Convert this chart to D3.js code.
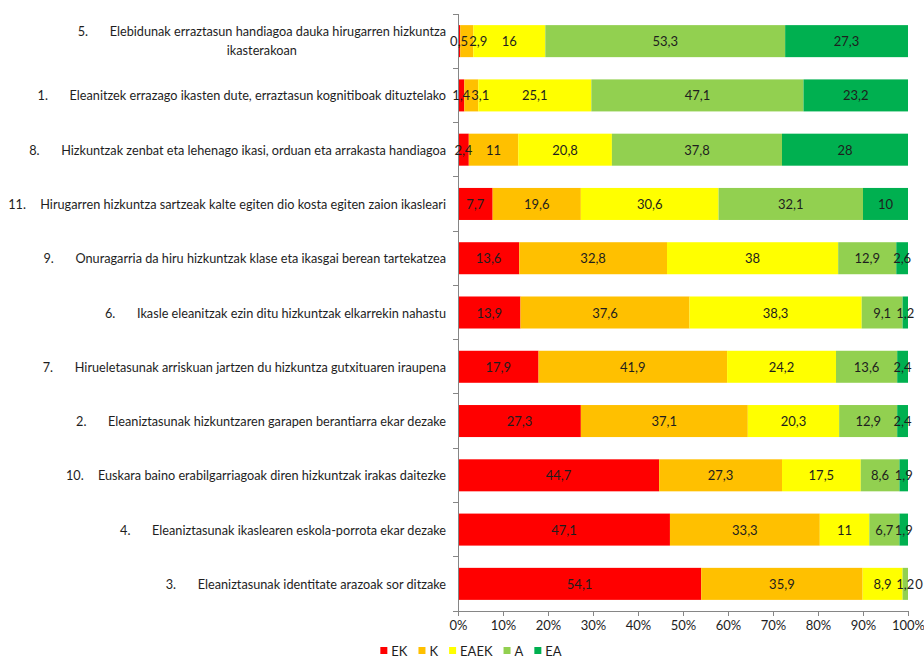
<!DOCTYPE html>
<html>
<head>
<meta charset="utf-8">
<script src="https://cdn.jsdelivr.net/npm/d3@7/dist/d3.min.js"></script>
<style>
  html, body { margin: 0; padding: 0; background: #fff; }
  svg { display: block; font-family: Lato, "Open Sans", sans-serif; }
</style>
</head>
<body>
<svg id="chart" width="924" height="659"></svg>
<script>
// ---- data ----
const itemNumbers = ["5.", "1.", "8.", "11.", "9.", "6.", "7.", "2.", "10.", "4.", "3."];
const itemTexts = [
  ["Elebidunak erraztasun handiagoa dauka hirugarren hizkuntza", "ikasterakoan"],
  ["Eleanitzek errazago ikasten dute, erraztasun kognitiboak dituztelako"],
  ["Hizkuntzak zenbat eta lehenago ikasi, orduan eta arrakasta handiagoa"],
  ["Hirugarren hizkuntza sartzeak kalte egiten dio kosta egiten zaion ikasleari"],
  ["Onuragarria da hiru hizkuntzak klase eta ikasgai berean tartekatzea"],
  ["Ikasle eleanitzak ezin ditu hizkuntzak elkarrekin nahastu"],
  ["Hirueletasunak arriskuan jartzen du hizkuntza gutxituaren iraupena"],
  ["Eleaniztasunak hizkuntzaren garapen berantiarra ekar dezake"],
  ["Euskara baino erabilgarriagoak diren hizkuntzak irakas daitezke"],
  ["Eleaniztasunak ikaslearen eskola-porrota ekar dezake"],
  ["Eleaniztasunak identitate arazoak sor ditzake"]
];
const seriesNames = ["EK", "K", "EAEK", "A", "EA"];
const seriesColors = ["#FF0000", "#FFC000", "#FFFF00", "#92D050", "#00B050"];
const EK   = [0.5, 1.4, 2.4, 7.7, 13.6, 13.9, 17.9, 27.3, 44.7, 47.1, 54.1];
const K    = [2.9, 3.1, 11, 19.6, 32.8, 37.6, 41.9, 37.1, 27.3, 33.3, 35.9];
const EAEK = [16, 25.1, 20.8, 30.6, 38, 38.3, 24.2, 20.3, 17.5, 11, 8.9];
const A    = [53.3, 47.1, 37.8, 32.1, 12.9, 9.1, 13.6, 12.9, 8.6, 6.7, 1.2];
const EA   = [27.3, 23.2, 28, 10, 2.6, 1.2, 2.4, 2.4, 1.9, 1.9, 0];
const xTicks = [0, 10, 20, 30, 40, 50, 60, 70, 80, 90, 100];

// ---- build table ----
const seriesValues = [EK, K, EAEK, A, EA];
const rows = itemNumbers.map((n, i) => {
  const r = { idx: i };
  seriesNames.forEach((s, j) => r[s] = seriesValues[j][i]);
  return r;
});

const svg = d3.select("#chart");
const plot = { left: 458, right: 908, top: 14, bottom: 611 };
const FS = 13;
const LFS = 12.7;

const x = d3.scaleLinear().domain([0, 1]).range([plot.left, plot.right]);
const y = d3.scaleBand().domain(rows.map(r => r.idx))
  .range([plot.top, plot.bottom]).paddingInner(0.41).paddingOuter(0.205);

const stack = d3.stack().keys(seriesNames).offset(d3.stackOffsetExpand);
const stacked = stack(rows);

const textColor = "#1e1e1e";
const axisColor = "#868686";

// bars
const g = svg.append("g");
stacked.forEach((layer, j) => {
  g.selectAll(null).data(layer).enter().append("rect")
    .attr("x", d => x(d[0]))
    .attr("y", d => y(d.data.idx))
    .attr("width", d => Math.max(0, x(d[1]) - x(d[0])))
    .attr("height", y.bandwidth())
    .attr("fill", seriesColors[j]);
});

// y axis line and ticks at category boundaries
svg.append("line").attr("x1", plot.left).attr("x2", plot.left)
  .attr("y1", plot.top).attr("y2", plot.bottom)
  .attr("stroke", axisColor).attr("stroke-width", 1).attr("shape-rendering", "crispEdges");
const step = y.step();
d3.range(rows.length + 1).forEach(k => {
  const yy = plot.top + k * step;
  svg.append("line").attr("x1", plot.left - 5).attr("x2", plot.left)
    .attr("y1", yy).attr("y2", yy)
    .attr("stroke", axisColor).attr("shape-rendering", "crispEdges");
});

// value labels (centered, nudged right when they would collide with the previous one)
const fmt = v => String(v).replace(".", ",");
const lastRight = rows.map(() => -Infinity);
const vg = svg.append("g");
stacked.forEach((layer, j) => {
  layer.forEach(d => {
    const i = d.data.idx;
    const t = vg.append("text")
      .attr("y", y(i) + y.bandwidth() / 2)
      .attr("text-anchor", "middle")
      .attr("dominant-baseline", "central")
      .attr("font-size", FS)
      .attr("fill", textColor)
      .text(fmt(d.data[seriesNames[j]]));
    const w = t.node().getComputedTextLength();
    let cx = (x(d[0]) + x(d[1])) / 2;
    if (cx - w / 2 < lastRight[i] + 1) cx = lastRight[i] + 1 + w / 2;
    t.attr("x", cx);
    lastRight[i] = cx + w / 2;
  });
});

// x axis
const xAxis = d3.axisBottom(d3.scaleLinear().domain([0, 100]).range([plot.left, plot.right]))
  .tickValues(xTicks).tickFormat(d => d + "%").tickSize(5).tickSizeOuter(0);
const xg = svg.append("g").attr("transform", `translate(0,${plot.bottom})`).call(xAxis);
xg.select(".domain").attr("stroke", axisColor);
xg.selectAll(".tick line").attr("stroke", axisColor);
xg.selectAll(".tick text").attr("fill", textColor).attr("font-size", FS)
  .attr("font-family", "Lato, sans-serif").attr("dy", "0.85em");

// category labels
const labelRight = 446;
const numGap = 32;
rows.forEach((r, i) => {
  const lines = itemTexts[i];
  const cy = y(i) + y.bandwidth() / 2;
  const lg = svg.append("g");
  const y1 = lines.length > 1 ? cy - 10 : cy;
  const t1 = lg.append("text").attr("x", labelRight).attr("y", y1)
    .attr("text-anchor", "end").attr("dominant-baseline", "central")
    .attr("font-size", LFS).attr("fill", textColor).text(lines[0]);
  const w = t1.node().getComputedTextLength();
  const numX = labelRight - w - numGap;
  lg.append("text").attr("x", numX).attr("y", y1)
    .attr("text-anchor", "start").attr("dominant-baseline", "central")
    .attr("font-size", LFS).attr("fill", textColor).text(itemNumbers[i]);
  if (lines.length > 1) {
    lg.append("text").attr("x", (numX + labelRight) / 2).attr("y", cy + 9)
      .attr("text-anchor", "middle").attr("dominant-baseline", "central")
      .attr("font-size", LFS).attr("fill", textColor).text(lines[1]);
  }
});

// legend
const leg = svg.append("g");
let lx = 0;
seriesNames.forEach((s, j) => {
  const it = leg.append("g").attr("transform", `translate(${lx},0)`);
  it.append("rect").attr("x", 0).attr("y", -4).attr("width", 7).attr("height", 7).attr("fill", seriesColors[j]);
  const t = it.append("text").attr("x", 11).attr("y", 0).attr("dominant-baseline", "central")
    .attr("font-size", FS).attr("fill", textColor).text(s);
  lx += 11 + t.node().getComputedTextLength() + 11;
});
const legW = lx - 11;
leg.attr("transform", `translate(${471 - legW / 2},651)`);
</script>
</body>
</html>
